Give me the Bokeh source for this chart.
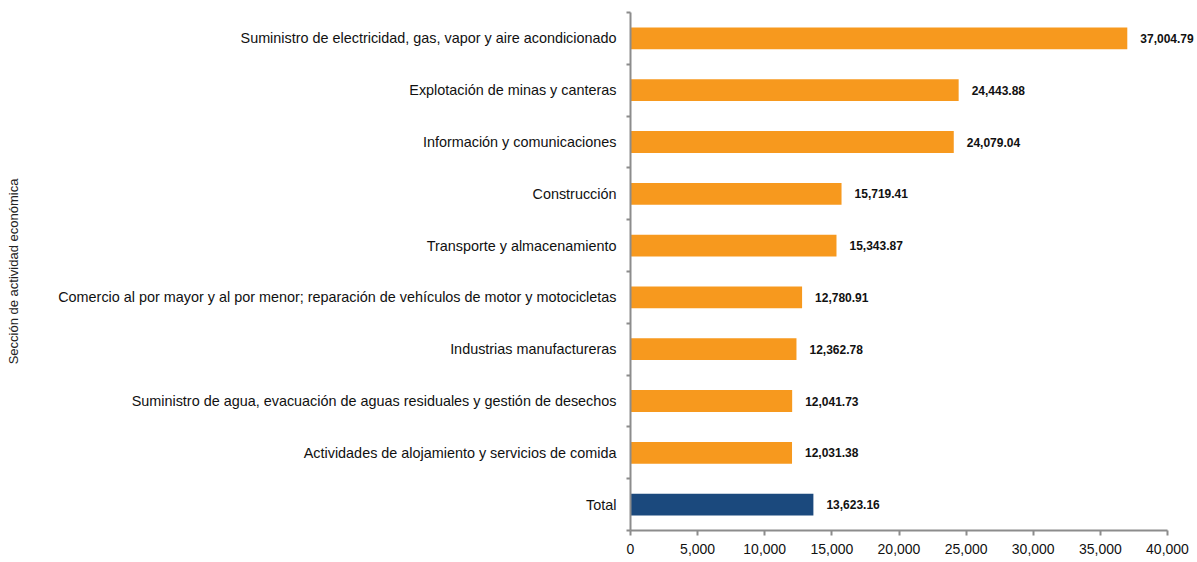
from bokeh.plotting import figure
from bokeh.models import ColumnDataSource, FixedTicker, LabelSet, NumeralTickFormatter, Range1d
from bokeh.core.properties import value
from bokeh.embed import file_html
from bokeh.resources import INLINE

categories = [
    "Suministro de electricidad, gas, vapor y aire acondicionado",
    "Explotación de minas y canteras",
    "Información y comunicaciones",
    "Construcción",
    "Transporte y almacenamiento",
    "Comercio al por mayor y al por menor; reparación de vehículos de motor y motocicletas",
    "Industrias manufactureras",
    "Suministro de agua, evacuación de aguas residuales y gestión de desechos",
    "Actividades de alojamiento y servicios de comida",
    "Total",
]
values = [37004.79, 24443.88, 24079.04, 15719.41, 15343.87, 12780.91, 12362.78, 12041.73, 12031.38, 13623.16]
x_ticks = [0, 5000, 10000, 15000, 20000, 25000, 30000, 35000, 40000]
y_title = "Sección de actividad económica"

ORANGE = "#F7991E"
NAVY = "#1B497D"
n = len(categories)
ypos = [n - i for i in range(n)]  # top category highest
colors = [NAVY if c == "Total" else ORANGE for c in categories]
labels = ["{:,.2f}".format(v) for v in values]

src = ColumnDataSource(dict(y=ypos, v=values, color=colors, label=labels))

# frame spans 630..1197 px; axis scale 0..40000 occupies 630..1167 px
x_end = x_ticks[-1] * (1197 - 630) / (1167 - 630)

p = figure(width=1197, height=562, output_backend="svg", toolbar_location=None,
           x_range=Range1d(0, x_end), y_range=Range1d(0.5, n + 0.5),
           min_border_left=630, min_border_right=0, min_border_top=12, min_border_bottom=32)
p.outline_line_color = None
p.xgrid.visible = False
p.ygrid.visible = False

p.hbar(y="y", right="v", left=0, height=0.42, color="color", line_color=None, source=src)
p.add_layout(LabelSet(x="v", y="y", text="label", source=src, x_offset=13,
                      text_baseline="middle", text_align="left",
                      text_font=value("Liberation Sans"), text_font_size=value("12px"),
                      text_font_style=value("bold"), text_color="#111111"))

AX = "#8C8C8C"
xa = p.xaxis[0]
xa.bounds = (x_ticks[0], x_ticks[-1])
xa.ticker = FixedTicker(ticks=x_ticks)
xa.formatter = NumeralTickFormatter(format="0,0")
xa.axis_line_color = AX
xa.axis_line_width = 2
xa.major_tick_line_color = AX
xa.major_tick_line_width = 2
xa.major_tick_out = 5
xa.major_tick_in = 0
xa.minor_tick_line_color = None
xa.major_label_standoff = 8
xa.major_label_text_font = "Liberation Sans"
xa.major_label_text_font_size = "14px"
xa.major_label_text_color = "#111111"

ya = p.yaxis[0]
ya.ticker = FixedTicker(ticks=ypos, minor_ticks=[k + 0.5 for k in range(n + 1)])
ya.major_label_overrides = {y: c for y, c in zip(ypos, categories)}
ya.axis_line_color = AX
ya.axis_line_width = 2
ya.major_tick_line_color = None
ya.major_tick_out = 0
ya.major_tick_in = 0
ya.minor_tick_line_color = AX
ya.minor_tick_line_width = 2
ya.minor_tick_out = 4
ya.minor_tick_in = 0
ya.major_label_standoff = 10
ya.major_label_text_font = "Liberation Sans"
ya.major_label_text_font_size = "14.4px"
ya.major_label_text_color = "#111111"
ya.axis_label = y_title
ya.axis_label_standoff = 34
ya.axis_label_text_font = "Liberation Sans"
ya.axis_label_text_font_size = "13px"
ya.axis_label_text_font_style = "normal"
ya.axis_label_text_color = "#222222"

open("out.html", "w").write(file_html(p, INLINE))
